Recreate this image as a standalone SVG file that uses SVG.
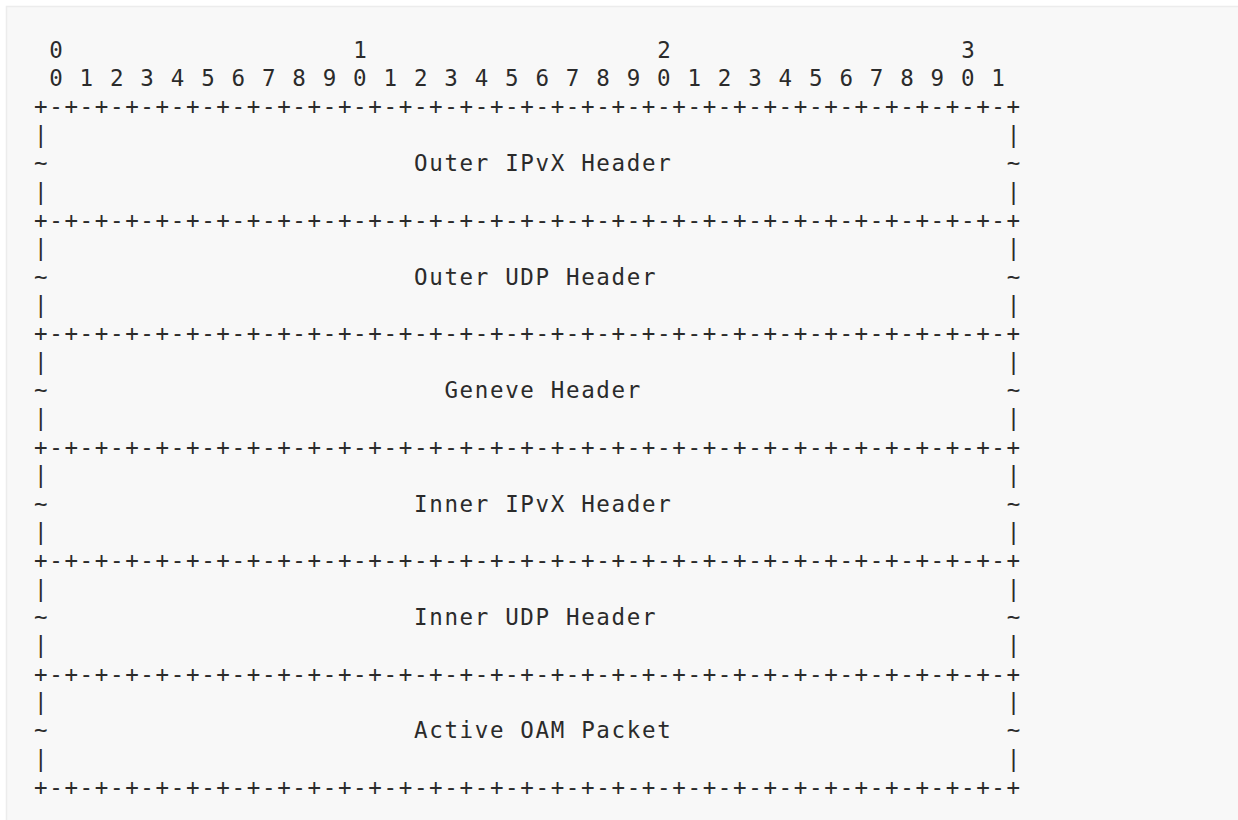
<svg xmlns="http://www.w3.org/2000/svg" xmlns:xlink="http://www.w3.org/1999/xlink" width="1238" height="820" viewBox="0 0 1238 820" xml:space="preserve">
<style>
.t{font-family:"DejaVu Sans Mono","Liberation Mono",monospace;font-size:22.5px;letter-spacing:1.65px;fill:#2b2b2b;white-space:pre}
</style>
<defs>
<text id="plus" class="t" x="34" y="0">+-+-+-+-+-+-+-+-+-+-+-+-+-+-+-+-+-+-+-+-+-+-+-+-+-+-+-+-+-+-+-+-+</text>
<text id="bar" class="t" x="0" y="0">|</text>
<text id="tl" class="t" x="0" y="0">~</text>
</defs>
<rect x="6.5" y="6.5" width="1300" height="900" fill="#f8f8f8" stroke="#ececec" stroke-width="1.5"/>
<g id="ruler">
<text class="t" x="49.2" y="57.7">0</text>
<text class="t" x="353.2" y="57.7">1</text>
<text class="t" x="657.2" y="57.7">2</text>
<text class="t" x="961.2" y="57.7">3</text>
<text class="t" x="49.2" y="86.1">0 1 2 3 4 5 6 7 8 9 0 1 2 3 4 5 6 7 8 9 0 1 2 3 4 5 6 7 8 9 0 1</text>
<use xlink:href="#plus" y="114.4"/>
</g>
<g id="outer-ipvx-header">
<use xlink:href="#bar" x="34" y="142.8"/><use xlink:href="#bar" x="1006.8" y="142.8"/>
<use xlink:href="#tl" x="34" y="171.1"/><use xlink:href="#tl" x="1006.8" y="171.1"/>
<text class="t" x="414" y="171.1">Outer IPvX Header</text>
<use xlink:href="#bar" x="34" y="199.5"/><use xlink:href="#bar" x="1006.8" y="199.5"/>
<use xlink:href="#plus" y="227.9"/>
</g>
<g id="outer-udp-header">
<use xlink:href="#bar" x="34" y="256.2"/><use xlink:href="#bar" x="1006.8" y="256.2"/>
<use xlink:href="#tl" x="34" y="284.6"/><use xlink:href="#tl" x="1006.8" y="284.6"/>
<text class="t" x="414" y="284.6">Outer UDP Header</text>
<use xlink:href="#bar" x="34" y="312.9"/><use xlink:href="#bar" x="1006.8" y="312.9"/>
<use xlink:href="#plus" y="341.3"/>
</g>
<g id="geneve-header">
<use xlink:href="#bar" x="34" y="369.7"/><use xlink:href="#bar" x="1006.8" y="369.7"/>
<use xlink:href="#tl" x="34" y="398.0"/><use xlink:href="#tl" x="1006.8" y="398.0"/>
<text class="t" x="444.4" y="398.0">Geneve Header</text>
<use xlink:href="#bar" x="34" y="426.4"/><use xlink:href="#bar" x="1006.8" y="426.4"/>
<use xlink:href="#plus" y="454.7"/>
</g>
<g id="inner-ipvx-header">
<use xlink:href="#bar" x="34" y="483.1"/><use xlink:href="#bar" x="1006.8" y="483.1"/>
<use xlink:href="#tl" x="34" y="511.5"/><use xlink:href="#tl" x="1006.8" y="511.5"/>
<text class="t" x="414" y="511.5">Inner IPvX Header</text>
<use xlink:href="#bar" x="34" y="539.8"/><use xlink:href="#bar" x="1006.8" y="539.8"/>
<use xlink:href="#plus" y="568.2"/>
</g>
<g id="inner-udp-header">
<use xlink:href="#bar" x="34" y="596.5"/><use xlink:href="#bar" x="1006.8" y="596.5"/>
<use xlink:href="#tl" x="34" y="624.9"/><use xlink:href="#tl" x="1006.8" y="624.9"/>
<text class="t" x="414" y="624.9">Inner UDP Header</text>
<use xlink:href="#bar" x="34" y="653.3"/><use xlink:href="#bar" x="1006.8" y="653.3"/>
<use xlink:href="#plus" y="681.6"/>
</g>
<g id="active-oam-packet">
<use xlink:href="#bar" x="34" y="710.0"/><use xlink:href="#bar" x="1006.8" y="710.0"/>
<use xlink:href="#tl" x="34" y="738.3"/><use xlink:href="#tl" x="1006.8" y="738.3"/>
<text class="t" x="414" y="738.3">Active OAM Packet</text>
<use xlink:href="#bar" x="34" y="766.7"/><use xlink:href="#bar" x="1006.8" y="766.7"/>
<use xlink:href="#plus" y="795.1"/>
</g>
<g id="connectors"/>
</svg>
